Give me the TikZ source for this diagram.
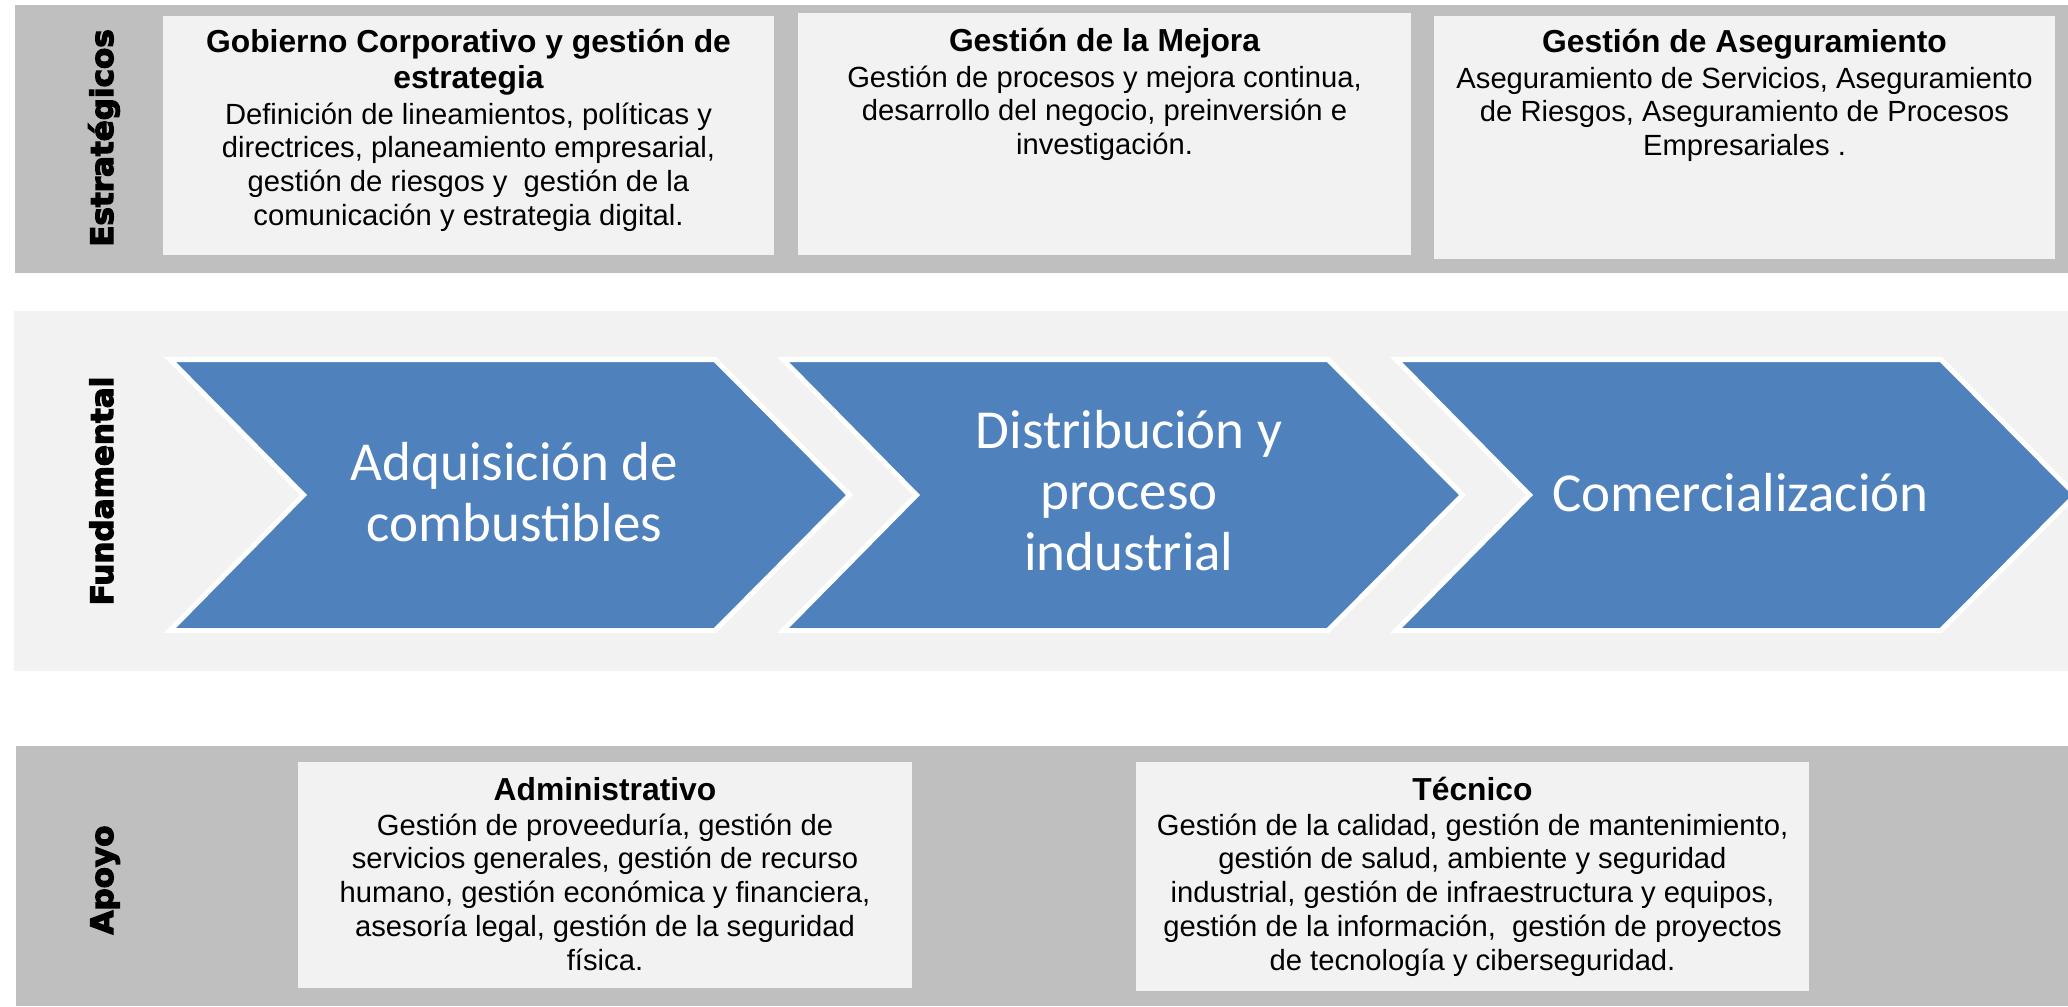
\documentclass[tikz,border=0pt]{standalone}
\usepackage{fontspec}
\setmainfont{Liberation Sans}
\newfontfamily\chevfont{Carlito}
\newfontfamily\sidefont{DejaVu Sans}[BoldFeatures={FakeBold=4}]
\definecolor{bandgray}{HTML}{BFBFBF}
\definecolor{boxgray}{HTML}{F2F2F2}
\definecolor{chevblue}{HTML}{4F81BD}
\setlength\parindent{0pt}
\newcommand\boxtitle{\bfseries\fontsize{31.8}{36}\selectfont}
\newcommand\boxbody{\fontsize{29.2}{33.8}\selectfont}
\begin{document}
\begin{tikzpicture}[x=1pt,y=-1pt,
  band/.style={fill=bandgray},
  lightband/.style={fill=boxgray},
  infobox/.style={fill=boxgray},
  chevron/.style={fill=chevblue, draw=white, line width=5pt, line join=miter},
  boxtext/.style={anchor=base, text width=700pt, align=flush center, inner sep=0pt},
  chevtext/.style={anchor=base, text width=520pt, align=flush center, inner sep=0pt,
    text=white, font=\chevfont\fontsize{55}{61}\selectfont},
  sidelabel/.style={anchor=base, rotate=90, inner sep=0pt,
    font=\sidefont\bfseries\fontsize{31}{36}\selectfont}]
\useasboundingbox (0,0) rectangle (2068,1006);
\clip (0,0) rectangle (2068,1006);

% bands
\fill[band] (15,5) rectangle (2068,273);
\fill[lightband] (14,311) rectangle (2068,671);
\fill[band] (16,746) rectangle (2068,1006);

% top boxes
\fill[infobox] (163,16) rectangle (774,255);
\fill[infobox] (798,13) rectangle (1411,255);
\fill[infobox] (1434,16) rectangle (2055,259);
% bottom boxes
\fill[infobox] (298,762) rectangle (912,988);
\fill[infobox] (1136,762) rectangle (1809,991);

% chevrons
\foreach \s in {0,613,1226}{
  \filldraw[chevron] (170+\s,359.5) -- (715+\s,359.5) -- (849.5+\s,495)
    -- (715+\s,630.5) -- (170+\s,630.5) -- (303.5+\s,495) -- cycle;
}

% side labels
\node[sidelabel] (lblE) at (113,138) {Estratégicos};
\node[sidelabel] (lblF) at (113,491) {Fundamental};
\node[sidelabel] (lblA) at (113,880) {Apoyo};

% top texts
\node[boxtext] (gob) at (468.5,53) {{\boxtitle Gobierno Corporativo y gestión de\\estrategia\par}\vspace{1.3pt}%
  {\boxbody Definición de lineamientos, políticas y\\directrices, planeamiento empresarial,\\gestión de riesgos y~ gestión de la\\comunicación y estrategia digital.\par}};
\node[boxtext] (mej) at (1104.5,52) {{\boxtitle Gestión de la Mejora\par}\vspace{1.3pt}%
  {\boxbody Gestión de procesos y mejora continua,\\desarrollo del negocio, preinversión e\\investigación.\par}};
\node[boxtext] (ase) at (1744.5,53) {{\boxtitle Gestión de Aseguramiento\par}\vspace{1.3pt}%
  {\boxbody Aseguramiento de Servicios, Aseguramiento\\de Riesgos, Aseguramiento de Procesos\\Empresariales .\par}};

% chevron texts
\node[chevtext] (c1) at (514.5,480) {Adquisición de\\combustibles};
\node[chevtext] (c2) at (1129,448) {Distribución y\\proceso\\industrial};
\node[chevtext] (c3) at (1740.5,511) {Comercialización};

% bottom texts
\node[boxtext] (adm) at (605,800) {{\boxtitle Administrativo\par}\vspace{1.3pt}%
  {\boxbody Gestión de proveeduría, gestión de\\servicios generales, gestión de recurso\\humano, gestión económica y financiera,\\asesoría legal, gestión de la seguridad\\física.\par}};
\node[boxtext] (tec) at (1472.5,800) {{\boxtitle Técnico\par}\vspace{1.3pt}%
  {\boxbody Gestión de la calidad, gestión de mantenimiento,\\gestión de salud, ambiente y seguridad\\industrial, gestión de infraestructura y equipos,\\gestión de la información,~ gestión de proyectos\\de tecnología y ciberseguridad.\par}};
\end{tikzpicture}
\end{document}
